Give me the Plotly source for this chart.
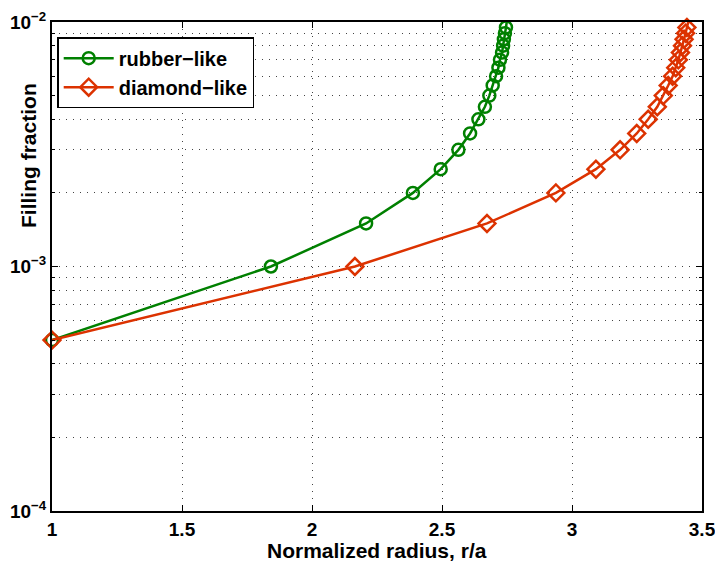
import plotly.graph_objects as go

# Normalized radius r/a and filling fraction for the two materials
fill_fraction = [5e-4, 1e-3, 1.5e-3, 2e-3, 2.5e-3, 3e-3, 3.5e-3, 4e-3, 4.5e-3, 5e-3,
                 5.5e-3, 6e-3, 6.5e-3, 7e-3, 7.5e-3, 8e-3, 8.5e-3, 9e-3, 9.5e-3, 1e-2]
rubber_r = [1.0, 1.842, 2.208, 2.388, 2.495, 2.563, 2.608, 2.640, 2.665, 2.682,
            2.695, 2.708, 2.717, 2.723, 2.731, 2.735, 2.738, 2.742, 2.746, 2.749]
diamond_r = [1.0, 2.165, 2.673, 2.938, 3.092, 3.185, 3.249, 3.293, 3.328, 3.351,
             3.370, 3.387, 3.399, 3.409, 3.417, 3.425, 3.431, 3.437, 3.442, 3.447]

x_ticks = [1, 1.5, 2, 2.5, 3, 3.5]
x_ticklabels = ["1", "1.5", "2", "2.5", "3", "3.5"]
y_ticks = [1e-4, 1e-3, 1e-2]
y_ticklabels = ["10<sup>−4</sup>", "10<sup>−3</sup>", "10<sup>−2</sup>"]
y_minor = [m * 10 ** e for e in (-4, -3) for m in range(2, 10)]

GREEN = "#008000"
RED = "#dc3200"
FONT = "Liberation Sans, Arial, sans-serif"

fig = go.Figure()
fig.add_trace(go.Scatter(
    x=rubber_r, y=fill_fraction, mode="lines+markers", name="rubber−like",
    cliponaxis=False,
    line=dict(color=GREEN, width=2.5),
    marker=dict(symbol="circle-open", size=12, color=GREEN, line=dict(width=2.5, color=GREEN)),
))
fig.add_trace(go.Scatter(
    x=diamond_r, y=fill_fraction, mode="lines+markers", name="diamond−like",
    cliponaxis=False,
    line=dict(color=RED, width=2.5),
    marker=dict(symbol="diamond-open", size=13, color=RED, line=dict(width=2.5, color=RED)),
))

grid_style = dict(showgrid=True, gridcolor="#444444", gridwidth=1, griddash="1px,6px")
tick_font = dict(family=FONT, size=19, color="black", weight="bold")
title_font = dict(family=FONT, size=21, color="black", weight="bold")

fig.update_xaxes(
    range=[1, 3.5], tickmode="array", tickvals=x_ticks, ticktext=x_ticklabels,
    ticks="inside", ticklen=6, tickwidth=1, tickcolor="black",
    showline=True, linecolor="black", linewidth=2, mirror="ticks",
    zeroline=False, automargin=False, tickfont=tick_font,
    ticklabeloverflow="allow",
    **grid_style,
)
fig.update_yaxes(
    type="log", range=[-4, -2], tickmode="array", tickvals=y_ticks, ticktext=y_ticklabels,
    ticks="inside", ticklen=6, tickwidth=1, tickcolor="black",
    showline=True, linecolor="black", linewidth=2, mirror="ticks",
    zeroline=False, automargin=False, tickfont=tick_font,
    ticklabeloverflow="allow",
    minor=dict(tickmode="array", tickvals=y_minor, ticks="inside", ticklen=3,
               tickcolor="black", showgrid=True, gridcolor="#444444",
               gridwidth=1, griddash="1px,6px"),
    **grid_style,
)

# Axis titles
fig.add_annotation(text="Normalized radius, r/a", xref="paper", yref="paper",
                   x=0.5, y=-0.1084, xanchor="center", yanchor="bottom",
                   showarrow=False, font=title_font)
fig.add_annotation(text="Filling fraction", xref="paper", yref="paper",
                   x=-0.037, y=0.728, xanchor="center", yanchor="middle",
                   textangle=-90, showarrow=False, font=title_font)

fig.update_layout(
    width=715, height=564,
    margin=dict(l=52, r=13, t=22, b=53),
    plot_bgcolor="white", paper_bgcolor="white",
    showlegend=True,
    legend=dict(
        x=0.008, y=0.969, xanchor="left", yanchor="top",
        bgcolor="white", bordercolor="black", borderwidth=1.5,
        font=dict(family=FONT, size=20, color="black", weight="bold"),
        itemwidth=50, tracegroupgap=0,
    ),
)

fig.write_html("out.html")
